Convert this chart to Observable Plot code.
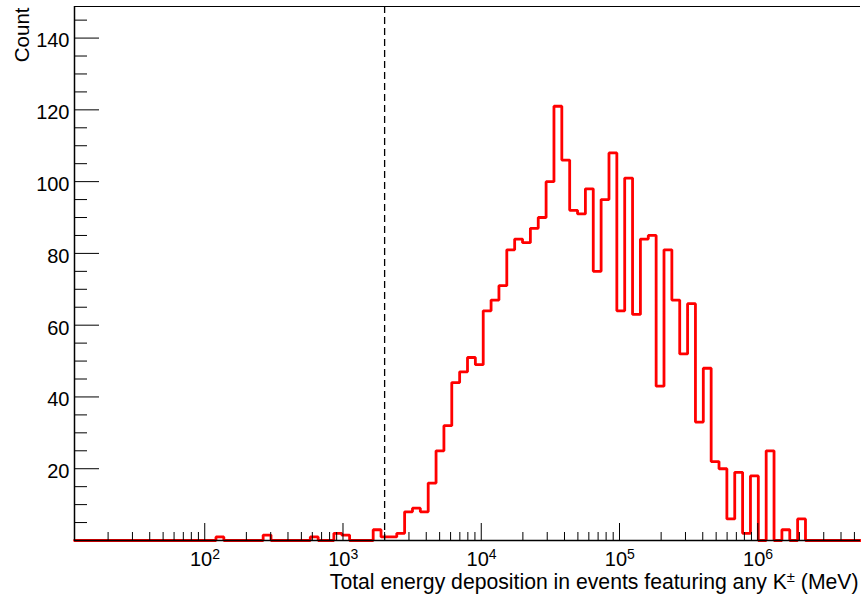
<!DOCTYPE html>
<html>
<head>
<meta charset="utf-8">
<script src="https://cdn.jsdelivr.net/npm/d3@7"></script>
<script src="https://cdn.jsdelivr.net/npm/@observablehq/plot@0.6"></script>
<style>
  html, body { margin: 0; padding: 0; background: #fff; }
  svg { display: block; }
</style>
</head>
<body>
<div id="chart"></div>
<script>
// Histogram: 100 log-spaced bins between xMin and xMax
const xMin = Math.pow(10, 1.058);
const xMax = Math.pow(10, 6.743);
const nBins = 100;
const counts = [
  0,0,0,0,0,0,0,0,0,0,
  0,0,0,0,0,0,0,0,1,0,
  0,0,0,0,1.5,0,0,0,0,0,
  1,0,0,2,1.5,0,0,0,3,1,
  1,2,8,9,8,16,25,32,44,47,
  51,49,64,67,71,81,84,83,87,90,
  100,121,106,92,91,98,75,95,108,64,
  101,63,84,85,43,81,67,52,66,33,
  48,22,20,6,19,2,18,0,25,0,
  3,0,6,0,0,0,0,0,0,0
];
const cutValue = 2000; // dashed line (MeV)
const yMax = 148.8;

const yMajorTicks = [20, 40, 60, 80, 100, 120, 140];
const yLabels = ["20", "40", "60", "80", "100", "120", "140"];
const xMajorTicks = [1e2, 1e3, 1e4, 1e5, 1e6];
const xLabelBase = ["10", "10", "10", "10", "10"];
const xLabelExp = ["2", "3", "4", "5", "6"];

const yTitle = "Count";
const xTitleMain = "Total energy deposition in events featuring any K";
const xTitleSup = "\u00B1";
const xTitleEnd = " (MeV)";

// Derived structures
const logLo = Math.log10(xMin), logHi = Math.log10(xMax);
const edges = d3.range(nBins + 1).map(k => Math.pow(10, logLo + k * (logHi - logLo) / nBins));
const stepPts = counts.map((c, k) => ({x: edges[k], y: c}));
stepPts.push({x: edges[nBins], y: counts[nBins - 1]});

const yMinorTicks = d3.range(5, 150, 5).filter(v => v % 20 !== 0 && v < yMax);
const xMinorTicks = [];
for (let e = 1; e <= 6; e++) for (let m = 2; m <= 9; m++) {
  const v = m * Math.pow(10, e);
  if (v > xMin && v < xMax) xMinorTicks.push(v);
}

const W = 861, H = 603, mL = 74, mR = 1, mT = 6, mB = 63;
const pw = W - mL - mR, ph = H - mT - mB;
const font = "'Liberation Sans', Arial, Helvetica, sans-serif";

const chart = Plot.plot({
  width: W, height: H,
  marginLeft: mL, marginRight: mR, marginTop: mT, marginBottom: mB,
  style: {fontFamily: font, fontSize: "20px", color: "black", background: "white"},
  x: {type: "log", domain: [xMin, xMax], axis: null},
  y: {domain: [0, yMax], axis: null},
  marks: [
    // histogram outline
    Plot.line(stepPts, {x: "x", y: "y", curve: "step-after", stroke: "#ff0000", strokeWidth: 2.8, strokeLinejoin: "miter"}),
    // dashed cut line
    Plot.ruleX([cutValue], {stroke: "black", strokeWidth: 1.3, strokeDasharray: "7,4"}),
    // frame lines
    Plot.ruleX([xMin], {stroke: "black", strokeWidth: 1.5}),
    Plot.ruleY([0], {stroke: "black", strokeWidth: 1.5}),
    Plot.ruleY([yMax], {stroke: "black", strokeWidth: 1}),
    // y ticks (inside)
    Plot.tickY(yMajorTicks, {y: d => d, insetRight: pw - 25, stroke: "black"}),
    Plot.tickY(yMinorTicks, {y: d => d, insetRight: pw - 13, stroke: "black"}),
    // x ticks (inside)
    Plot.tickX(xMajorTicks, {x: d => d, insetTop: ph - 17, stroke: "black"}),
    Plot.tickX(xMinorTicks, {x: d => d, insetTop: ph - 8, stroke: "black"}),
    // y labels
    Plot.text(yMajorTicks, {y: d => d, text: (d, i) => yLabels[i], frameAnchor: "left", textAnchor: "end", dx: -5, dy: 3, fontSize: 20, fill: "black"}),
    // x labels 10^n
    Plot.text(xMajorTicks, {x: d => d, text: (d, i) => xLabelBase[i], frameAnchor: "bottom", textAnchor: "end", dx: 7.5, dy: 25, fontSize: 20, fill: "black"}),
    Plot.text(xMajorTicks, {x: d => d, text: (d, i) => xLabelExp[i], frameAnchor: "bottom", textAnchor: "start", dx: 7.5, dy: 18.5, fontSize: 14, fill: "black"}),
    // axis titles
    Plot.text([yTitle], {text: d => d, frameAnchor: "top-left", rotate: -90, textAnchor: "end", dx: -60, dy: 1, fontSize: 20.5, fill: "black"}),
    Plot.text([xTitleMain + xTitleSup + xTitleEnd], {text: d => d, frameAnchor: "bottom-right", textAnchor: "end", dx: -2, dy: 48, fontSize: 21.2, fill: "black", className: "xtitle"})
  ]
});
document.getElementById("chart").appendChild(chart);

// Render the ± of K± as a superscript, keeping it as real text
d3.select(chart).selectAll(".xtitle text").each(function() {
  const t = d3.select(this);
  t.text(null);
  t.append("tspan").text(xTitleMain);
  t.append("tspan").attr("dy", "-0.45em").attr("font-size", "0.7em").text(xTitleSup);
  t.append("tspan").attr("dy", "0.315em").text(xTitleEnd);
});
</script>
</body>
</html>
